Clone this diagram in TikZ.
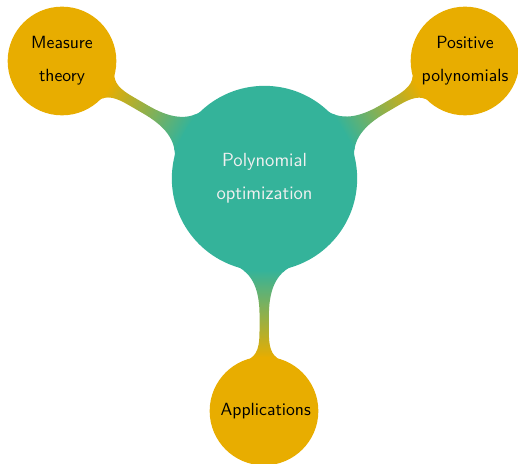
\documentclass[tikz,border=0pt]{standalone}
\usetikzlibrary{mindmap,backgrounds}
\definecolor{polyteal}{HTML}{34B39A}
\definecolor{topicgold}{HTML}{E8AD00}

\begin{document}
\begin{tikzpicture}[mindmap,x=.6pt,y=-.6pt,
  every node/.style={concept,align=center,inner sep=0pt},
  hub/.style={concept color=polyteal,text=white!94!black,minimum size=110pt,text width=80pt,
    font=\sffamily\fontsize{11.4}{19.6}\selectfont},
  topic/.style={concept color=topicgold,text=black,minimum size=64pt,text width=52pt,
    font=\sffamily\fontsize{10.6}{19.6}\selectfont}]
\useasboundingbox (0,0) rectangle (518,464);

\node[hub] (poly) at (264.5,178.5) {Polynomial\\optimization};
\node[topic] (meas) at (62,61) {Measure\\theory};
\node[topic] (posi) at (465,61) {Positive\\polynomials};
\node[topic] (appl) at (264,411) {Applications};

\begin{scope}[on background layer]
\path (poly) to[circle connection bar switch color=from (polyteal) to (topicgold)] (meas);
\path (poly) to[circle connection bar switch color=from (polyteal) to (topicgold)] (posi);
\path (poly) to[circle connection bar switch color=from (polyteal) to (topicgold)] (appl);
\end{scope}

\end{tikzpicture}
\end{document}
